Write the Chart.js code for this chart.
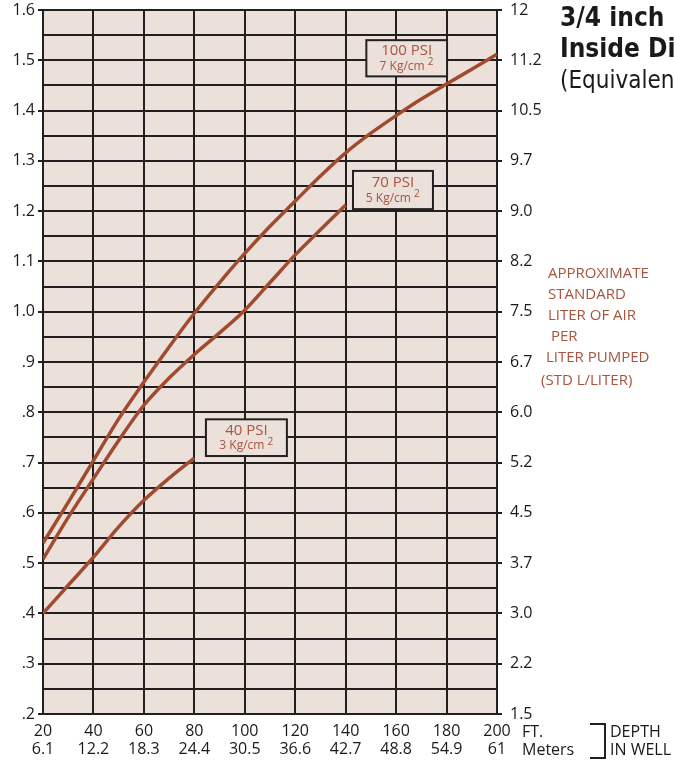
<!DOCTYPE html>
<html>
<head>
<meta charset="utf-8">
<script src="https://cdn.jsdelivr.net/npm/chart.js@4/dist/chart.umd.min.js"></script>
<style>
  html, body { margin: 0; padding: 0; background: #ffffff; }
  #wrap { position: relative; width: 674px; height: 765px; }
</style>
</head>
<body>
<div id="wrap"><canvas id="c" width="674" height="765"></canvas></div>
<script>
// ---- data ----
const depthFt = [20, 40, 60, 80, 100, 120, 140, 160, 180, 200];
const depthM = ['6.1', '12.2', '18.3', '24.4', '30.5', '36.6', '42.7', '48.8', '54.9', '61'];
const leftTickLabels = ['.2', '.3', '.4', '.5', '.6', '.7', '.8', '.9', '1.0', '1.1', '1.2', '1.3', '1.4', '1.5', '1.6'];
const rightTickLabels = ['1.5', '2.2', '3.0', '3.7', '4.5', '5.2', '6.0', '6.7', '7.5', '8.2', '9.0', '9.7', '10.5', '11.2', '12'];

const depth100 = [20, 30, 40, 50, 60, 70, 80, 90, 100, 110, 120, 130, 140, 150, 160, 170, 180, 190, 200];
const air100 = [0.540, 0.621, 0.704, 0.787, 0.860, 0.930, 0.997, 1.058, 1.116, 1.170, 1.220, 1.270, 1.316, 1.355, 1.390, 1.423, 1.453, 1.482, 1.512];
const depth70 = [20, 30, 40, 50, 60, 70, 80, 90, 100, 110, 120, 130, 140];
const air70 = [0.508, 0.591, 0.668, 0.744, 0.814, 0.868, 0.915, 0.958, 1.003, 1.058, 1.113, 1.163, 1.212];
const depth40 = [20, 30, 40, 50, 60, 70, 80];
const air40 = [0.400, 0.456, 0.512, 0.572, 0.625, 0.669, 0.709];

const seriesNames = ['100 PSI', '70 PSI', '40 PSI'];
const seriesMetric = ['7 Kg/cm', '5 Kg/cm', '3 Kg/cm'];
const rightTitleLines = ['APPROXIMATE', 'STANDARD', 'LITER OF AIR', 'PER', 'LITER PUMPED', '(STD L/LITER)'];
const titleLines = ['3/4 inch (19 mm)', 'Inside Diameter', '(Equivalent)'];

// ---- styles ----
const DARK = '#231f20';
const CURVE = '#a04b30';
const BROWN = '#a8543e';
const FILL = '#ebe0da';
const NUMFONT = "'Open Sans', 'Noto Sans', sans-serif";
const NARROW = "'Liberation Sans Narrow', 'DejaVu Sans Condensed', 'Liberation Sans', sans-serif";

// label boxes anchored in data coordinates: [xMin, xMax, yMin, yMax]
const boxAnchors = [
  [148.2, 180.2, 1.468, 1.540],
  [142.9, 174.6, 1.204, 1.280],
  [84.6, 116.7, 0.713, 0.786]
];

function pts(xs, ys) { return xs.map((x, i) => ({ x: x, y: ys[i] })); }

const bgPlugin = {
  id: 'bg',
  beforeDraw(chart) {
    const a = chart.chartArea, ctx = chart.ctx;
    ctx.save();
    ctx.fillStyle = FILL;
    ctx.fillRect(a.left, a.top, a.right - a.left, a.bottom - a.top);
    ctx.restore();
  }
};

const boxPlugin = {
  id: 'boxes',
  afterDatasetsDraw(chart) {
    const ctx = chart.ctx, xs = chart.scales.x, ys = chart.scales.y;
    ctx.save();
    boxAnchors.forEach((b, i) => {
      const l = xs.getPixelForValue(b[0]), r = xs.getPixelForValue(b[1]);
      const t = ys.getPixelForValue(b[3]), btm = ys.getPixelForValue(b[2]);
      ctx.fillStyle = FILL;
      ctx.fillRect(l, t, r - l, btm - t);
      ctx.strokeStyle = DARK;
      ctx.lineWidth = 2;
      ctx.strokeRect(l, t, r - l, btm - t);
      const cx = (l + r) / 2, h = btm - t;
      ctx.fillStyle = BROWN;
      ctx.textAlign = 'center';
      ctx.textBaseline = 'middle';
      ctx.font = '15px ' + NUMFONT;
      ctx.fillText(seriesNames[i], cx, t + h * 0.30);
      ctx.font = '12px ' + NUMFONT;
      const w = ctx.measureText(seriesMetric[i] + ' ').width;
      ctx.textAlign = 'left';
      ctx.fillText(seriesMetric[i] + ' ', cx - w / 2 - 3, t + h * 0.72);
      ctx.font = '10px ' + NUMFONT;
      ctx.fillText('2', cx + w / 2 - 3, t + h * 0.62);
    });
    ctx.restore();
  }
};

const textPlugin = {
  id: 'texts',
  afterDraw(chart) {
    const ctx = chart.ctx, a = chart.chartArea;
    ctx.save();
    // title (top right, partly outside the canvas)
    ctx.fillStyle = '#1a1a1a';
    ctx.textAlign = 'left';
    ctx.textBaseline = 'alphabetic';
    ctx.font = 'bold 26px ' + NARROW;
    ctx.fillText(titleLines[0], 560, 26);
    ctx.fillText(titleLines[1], 560, 57);
    ctx.font = '24px ' + NARROW;
    ctx.fillText(titleLines[2], 560, 88);
    // right-side axis description
    ctx.fillStyle = BROWN;
    ctx.font = '15px ' + NUMFONT;
    ctx.textBaseline = 'middle';
    const rx = [548, 548, 548, 551, 546, 541];
    const ry = [274, 295, 316, 337, 358, 381];
    rightTitleLines.forEach((s, i) => ctx.fillText(s, rx[i], ry[i]));
    // unit names under the x axis
    ctx.fillStyle = '#1a1a1a';
    ctx.font = '16px ' + NUMFONT;
    ctx.fillText('FT.', a.right + 25, 732);
    ctx.fillText('Meters', a.right + 25, 750);
    ctx.strokeStyle = DARK;
    ctx.lineWidth = 2;
    ctx.beginPath();
    ctx.moveTo(590, 724); ctx.lineTo(605, 724); ctx.lineTo(605, 758); ctx.lineTo(590, 758);
    ctx.stroke();
    ctx.fillText('DEPTH', 610, 732);
    ctx.fillText('IN WELL', 610, 750);
    ctx.restore();
  }
};

const tickColorFn = c => (c.index % 2 === 0 ? DARK : 'rgba(0,0,0,0)');

new Chart(document.getElementById('c'), {
  type: 'line',
  data: {
    datasets: [
      { label: seriesNames[0], data: pts(depth100, air100) },
      { label: seriesNames[1], data: pts(depth70, air70) },
      { label: seriesNames[2], data: pts(depth40, air40) }
    ].map(d => Object.assign(d, {
      borderColor: CURVE, borderWidth: 3.5, pointRadius: 0, fill: false,
      cubicInterpolationMode: 'monotone', borderCapStyle: 'butt'
    }))
  },
  options: {
    responsive: false,
    animation: false,
    devicePixelRatio: 1,
    layout: { padding: { top: 10, left: 0, right: 0, bottom: 0 } },
    plugins: { legend: { display: false }, tooltip: { enabled: false } },
    scales: {
      x: {
        type: 'linear', min: 20, max: 200,
        afterFit(s) { s.height = 51; s.paddingLeft = 0; s.paddingRight = 0; },
        ticks: {
          stepSize: 20, autoSkip: false, maxRotation: 0, padding: 2,
          color: '#1a1a1a', font: { family: NUMFONT, size: 16, lineHeight: 1.15 },
          callback: (v) => { const i = depthFt.indexOf(v); return i < 0 ? '' : [String(depthFt[i]), depthM[i]]; }
        },
        grid: { color: DARK, lineWidth: 2, tickLength: 6, tickColor: 'rgba(0,0,0,0)' },
        border: { color: DARK, width: 2 }
      },
      y: {
        type: 'linear', position: 'left', min: 0.2, max: 1.6,
        afterFit(s) { s.width = 43; s.paddingTop = 0; s.paddingBottom = 0; },
        ticks: {
          stepSize: 0.05, autoSkip: false, padding: 3,
          color: '#1a1a1a', font: { family: NUMFONT, size: 16 },
          callback: (v, i) => (i % 2 === 0 ? leftTickLabels[i / 2] : '')
        },
        grid: { color: DARK, lineWidth: 2, tickLength: 5, tickColor: tickColorFn },
        border: { color: DARK, width: 2 }
      },
      y2: {
        type: 'linear', position: 'right', min: 0.2, max: 1.6,
        afterFit(s) { s.width = 177; s.paddingTop = 0; s.paddingBottom = 0; },
        ticks: {
          stepSize: 0.05, autoSkip: false, padding: 8,
          color: '#1a1a1a', font: { family: NUMFONT, size: 16 },
          callback: (v, i) => (i % 2 === 0 ? rightTickLabels[i / 2] : '')
        },
        grid: { drawOnChartArea: false, color: DARK, lineWidth: 2, tickLength: 5, tickColor: tickColorFn },
        border: { color: DARK, width: 2 }
      }
    }
  },
  plugins: [bgPlugin, boxPlugin, textPlugin]
});
</script>
</body>
</html>
